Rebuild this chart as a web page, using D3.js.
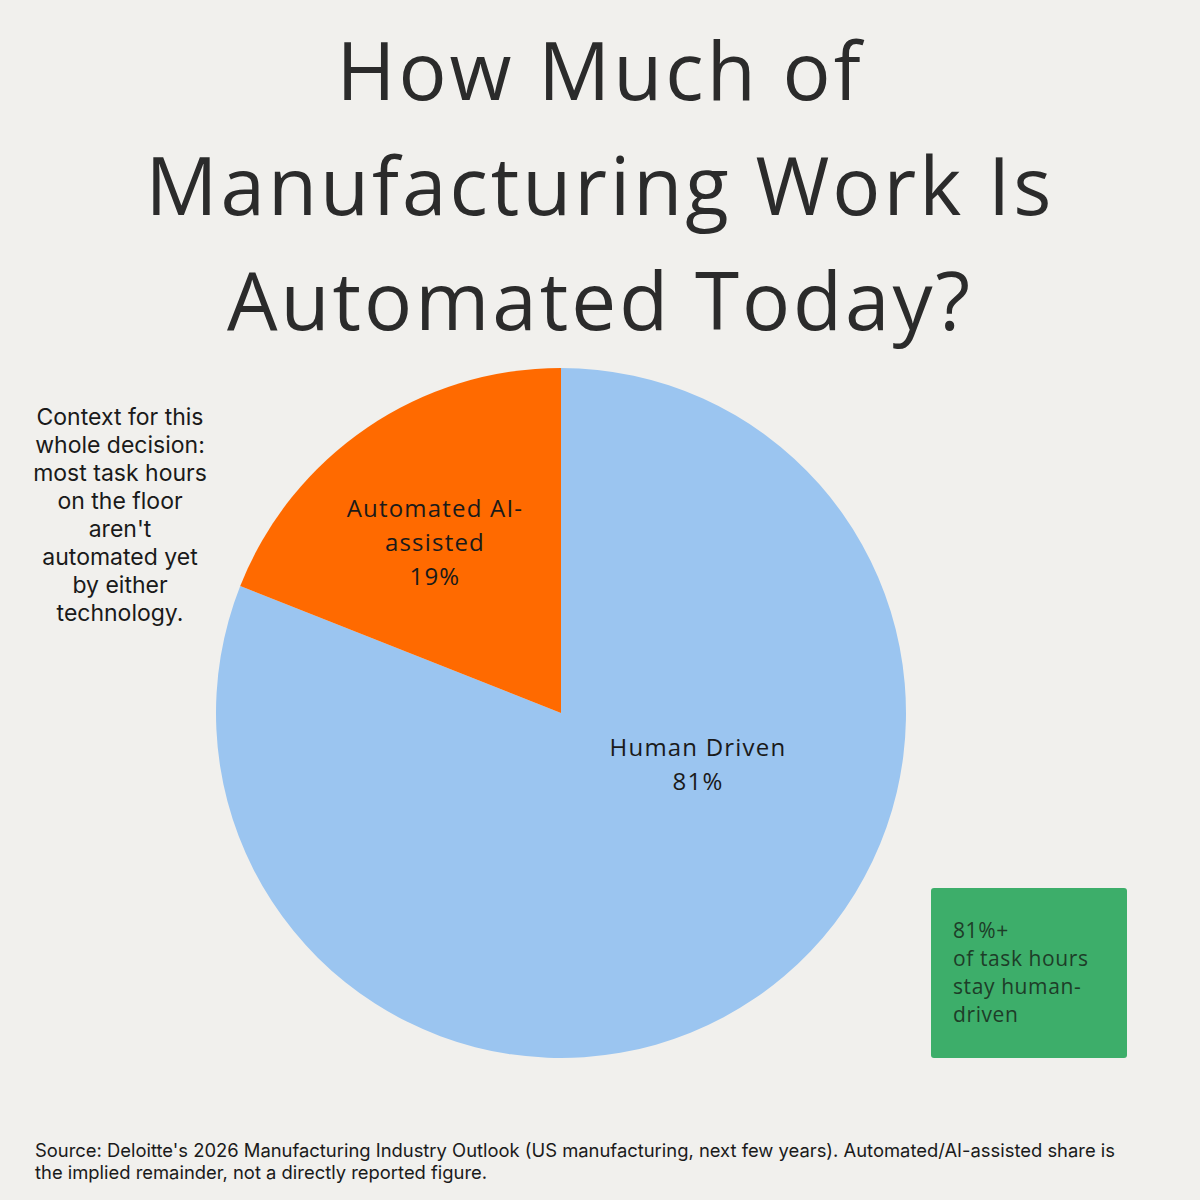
<!DOCTYPE html>
<html>
<head>
<meta charset="utf-8">
<title>How Much of Manufacturing Work Is Automated Today?</title>
<script src="https://cdn.jsdelivr.net/npm/d3@7"></script>
<style>
  body { margin: 0; background: #f1f0ed; }
  svg { display: block; }
</style>
</head>
<body>
<svg id="chart" width="1200" height="1200"></svg>
<script>
// data
var categories = ["Human Driven", "Automated AI-assisted"];
var shares = [81, 19];
var sliceLabels = [["Human Driven", "81%"], ["Automated AI-", "assisted", "19%"]];
var titleLines = ["How Much of", "Manufacturing Work Is", "Automated Today?"];
var noteLines = ["Context for this", "whole decision:", "most task hours", "on the floor", "aren't", "automated yet", "by either", "technology."];
var calloutLines = ["81%+", "of task hours", "stay human-", "driven"];
var sourceLines = ["Source: Deloitte's 2026 Manufacturing Industry Outlook (US manufacturing, next few years). Automated/AI-assisted share is",
                   "the implied remainder, not a directly reported figure."];

var titleFont = "'Open Sans', 'Noto Sans', sans-serif";
var bodyFont = "Inter, 'Noto Sans', sans-serif";

var svg = d3.select("#chart");
svg.append("rect").attr("width", 1200).attr("height", 1200).attr("fill", "#f1f0ed");

// title
svg.append("g").selectAll("text")
  .data(titleLines)
  .enter().append("text")
  .attr("x", 600)
  .attr("y", function(d, i) { return 100 + i * 115; })
  .attr("text-anchor", "middle")
  .style("font-family", titleFont)
  .style("font-size", "80px")
  .style("letter-spacing", "3px")
  .attr("fill", "#2b2b2b")
  .text(function(d) { return d; });

// pie
var cx = 561, cy = 713, r = 345;
var color = d3.scaleOrdinal().domain(categories).range(["#9bc5f0", "#ff6a00"]);
var pie = d3.pie().sort(null).value(function(d) { return d; });
var arc = d3.arc().innerRadius(0).outerRadius(r);
var arcs = pie(shares);

var g = svg.append("g").attr("transform", "translate(" + cx + "," + cy + ")");
g.selectAll("path")
  .data(arcs)
  .enter().append("path")
  .attr("d", arc)
  .attr("fill", function(d, i) { return color(categories[i]); });

// slice labels; the big slice's label sits off its centroid, like the original
var labelArc = d3.arc().innerRadius(r * 0.65).outerRadius(r * 0.65);
var labelPos = arcs.map(function(d, i) {
  if (i === 0) return [137, 52];
  var c = labelArc.centroid(d);
  return [c[0], c[1] + 15];
});
arcs.forEach(function(d, i) {
  var lines = sliceLabels[i];
  var t = g.append("text")
    .attr("text-anchor", "middle")
    .style("font-family", titleFont)
    .style("font-size", "24px")
    .style("letter-spacing", "1.2px")
    .attr("fill", "#1a1a1a");
  lines.forEach(function(line, j) {
    t.append("tspan")
      .attr("x", labelPos[i][0])
      .attr("y", labelPos[i][1] + (j - (lines.length - 1) / 2) * 34 + 8)
      .text(line);
  });
});

// left note
svg.append("g").selectAll("text")
  .data(noteLines)
  .enter().append("text")
  .attr("x", 120)
  .attr("y", function(d, i) { return 425 + i * 28; })
  .attr("text-anchor", "middle")
  .style("font-family", bodyFont)
  .style("font-size", "23px")
  .attr("fill", "#1a1a1a")
  .text(function(d) { return d; });

// green callout box
svg.append("rect")
  .attr("x", 931).attr("y", 888)
  .attr("width", 196).attr("height", 170)
  .attr("rx", 3)
  .attr("fill", "#3dae6a");
svg.append("g").selectAll("text")
  .data(calloutLines)
  .enter().append("text")
  .attr("x", 953)
  .attr("y", function(d, i) { return 938 + i * 28; })
  .style("font-family", titleFont)
  .style("font-size", "21px")
  .style("letter-spacing", "0.6px")
  .attr("fill", "#1d3d28")
  .text(function(d) { return d; });

// source
svg.append("g").selectAll("text")
  .data(sourceLines)
  .enter().append("text")
  .attr("x", 35)
  .attr("y", function(d, i) { return 1157 + i * 22; })
  .style("font-family", bodyFont)
  .style("font-size", "18.4px")
  .attr("fill", "#1a1a1a")
  .text(function(d) { return d; });
</script>
</body>
</html>
